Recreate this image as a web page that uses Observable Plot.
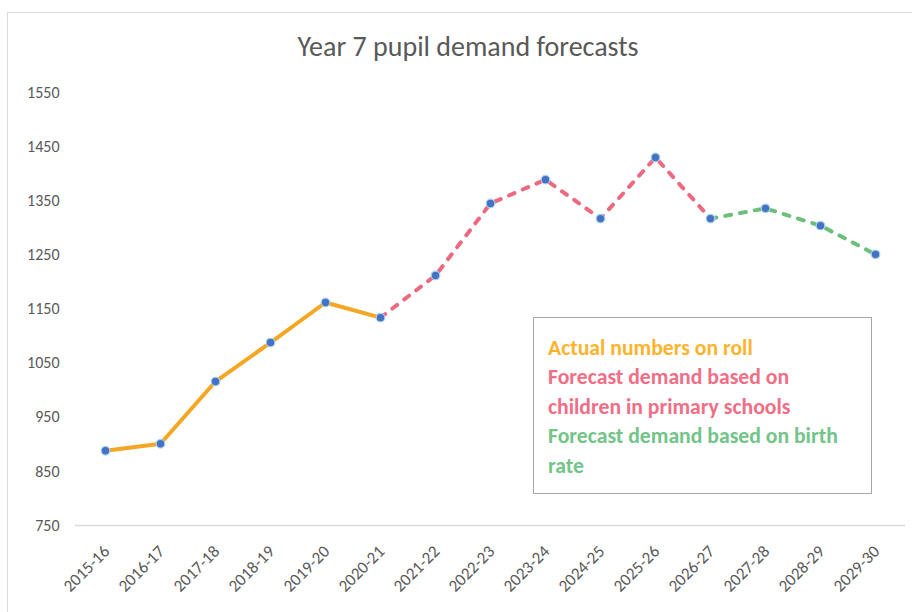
<!DOCTYPE html>
<html><head><meta charset="utf-8">
<script src="https://cdn.jsdelivr.net/npm/d3@7"></script>
<script src="https://cdn.jsdelivr.net/npm/@observablehq/plot@0.6"></script>
<style>
body{margin:0;background:#fff;font-family:Carlito,Lato,sans-serif;}
#wrap{position:relative;width:912px;height:612px;overflow:hidden;background:#fff;}
#frame{position:absolute;left:7px;top:12px;width:1000px;height:700px;border:1px solid #d9d9d9;}
#chart{position:absolute;left:0;top:0;}
#title{position:absolute;left:0;width:936px;top:33px;text-align:center;font-size:28px;line-height:28px;color:#595959;white-space:nowrap;}
#legend{position:absolute;left:533px;top:317px;width:339px;height:177px;border:1px solid #a6a6a6;box-sizing:border-box;padding-left:14px;padding-top:14.5px;font-weight:bold;font-size:21.7px;line-height:29.5px;white-space:nowrap;}
</style></head>
<body>
<div id="wrap">
  <div id="frame"></div>
  <div id="chart"></div>
  <div id="title"></div>
  <div id="legend"></div>
</div>
<script>
const titleText = "Year 7 pupil demand forecasts";
const years = ["2015-16","2016-17","2017-18","2018-19","2019-20","2020-21","2021-22","2022-23","2023-24","2024-25","2025-26","2026-27","2027-28","2028-29","2029-30"];
const actual   = [888, 901, 1016, 1088, 1162, 1134, null, null, null, null, null, null, null, null, null];
const primary  = [null, null, null, null, null, 1134, 1212, 1345, 1389, 1317, 1430, 1317, null, null, null];
const birth    = [null, null, null, null, null, null, null, null, null, null, null, 1317, 1336, 1304, 1251];
const yTicks = [750, 850, 950, 1050, 1150, 1250, 1350, 1450, 1550];
const seriesNames = ["Actual numbers on roll", "Forecast demand based on<br>children in primary schools", "Forecast demand based on birth<br>rate"];
const seriesColors = ["#F5A623", "#EB6A80", "#6BBF78"];
const textColors = ["#FFB22B", "#F06E86", "#72C488"];

const rows = years.map((year, i) => ({year, actual: actual[i], primary: primary[i], birth: birth[i]}));
const points = years.map((year, i) => ({year, value: actual[i] ?? primary[i] ?? birth[i]}));

document.getElementById("title").textContent = titleText;
document.getElementById("legend").innerHTML = seriesNames.map((n, i) => `<div style="color:${textColors[i]}">${n}</div>`).join("");

const chart = Plot.plot({
  width: 912,
  height: 612,
  marginLeft: 75,
  marginRight: 7,
  marginTop: 92,
  marginBottom: 87,
  style: {fontFamily: "Carlito, Lato, sans-serif", fontSize: "16px", color: "#595959", background: "transparent"},
  x: {type: "point", domain: years, padding: 0.5, axis: null},
  y: {domain: [750, 1550], ticks: yTicks, tickFormat: d => String(d), tickSize: 0, tickPadding: 16, label: null},
  marks: [
    Plot.ruleY([750], {stroke: "#d9d9d9", strokeWidth: 1.5}),
    Plot.line(rows, {x: "year", y: "actual", stroke: seriesColors[0], strokeWidth: 4, strokeLinejoin: "round"}),
    Plot.line(rows, {x: "year", y: "primary", stroke: seriesColors[1], strokeWidth: 4, strokeDasharray: "6,9", strokeLinecap: "round"}),
    Plot.line(rows, {x: "year", y: "birth", stroke: seriesColors[2], strokeWidth: 4, strokeDasharray: "6,9", strokeLinecap: "round"}),
    Plot.dot(points, {x: "year", y: "value", r: 4.3, fill: "#4472C4", stroke: "#A9CFEF", strokeWidth: 1.2}),
    Plot.text(years, {x: d => d, frameAnchor: "bottom", text: d => d, rotate: -45, textAnchor: "end", lineAnchor: "bottom", dx: 5, dy: 27, fontSize: 17, fill: "#595959"})
  ]
});
document.getElementById("chart").appendChild(chart);
</script>
</body></html>
